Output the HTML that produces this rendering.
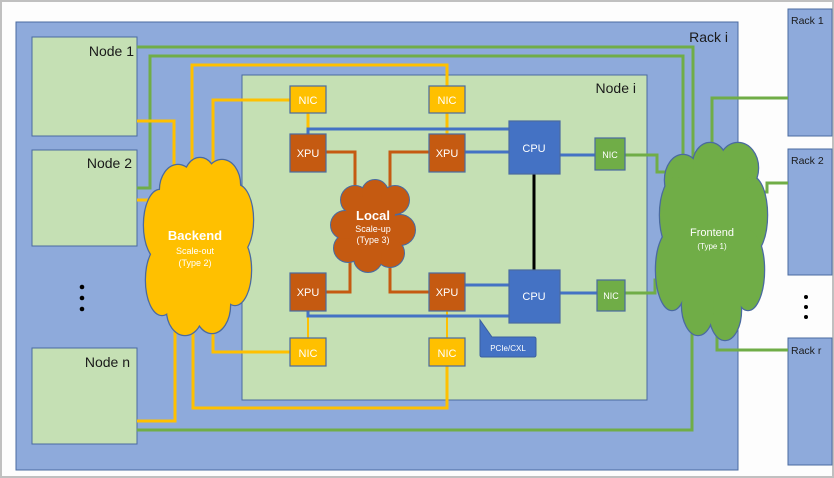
<!DOCTYPE html>
<html><head><meta charset="utf-8"><style>
body{margin:0;background:#fff}
svg{display:block;font-family:"Liberation Sans",sans-serif}
</style></head><body>
<svg width="834" height="478" viewBox="0 0 834 478" xmlns="http://www.w3.org/2000/svg">
<rect x="0" y="0" width="834" height="478" fill="#fdfdfd"/>
<rect x="1" y="1" width="832" height="476" fill="none" stroke="#c0c0c0" stroke-width="2"/>
<rect x="16" y="22" width="722" height="448" fill="#8eaadb" stroke="#4a6aa0" stroke-width="1"/>
<text x="728" y="42" font-size="14" text-anchor="end" fill="#1a1a1a">Rack i</text>
<g fill="#8eaadb" stroke="#4a6aa0">
<rect x="788" y="9" width="44" height="127"/>
<rect x="788" y="149" width="44" height="126"/>
<rect x="788" y="338" width="44" height="127"/>
</g>
<g font-size="10.5" fill="#1a1a1a">
<text x="791" y="24">Rack 1</text>
<text x="791" y="164">Rack 2</text>
<text x="791" y="354">Rack r</text>
</g>
<g fill="#000"><circle cx="806" cy="297" r="2"/><circle cx="806" cy="307" r="2"/><circle cx="806" cy="317" r="2"/>
<circle cx="82" cy="287" r="2.3"/><circle cx="82" cy="298" r="2.3"/><circle cx="82" cy="309" r="2.3"/></g>
<g fill="#c5e0b4" stroke="#4a6aa0">
<rect x="32" y="37" width="105" height="99"/>
<rect x="32" y="150" width="105" height="96"/>
<rect x="32" y="348" width="105" height="96"/>
<rect x="242" y="75" width="405" height="325"/>
</g>
<g font-size="14" fill="#1a1a1a" text-anchor="end">
<text x="134" y="56">Node 1</text>
<text x="132" y="168">Node 2</text>
<text x="130" y="367">Node n</text>
<text x="636" y="93">Node i</text>
</g>
<g fill="none" stroke="#70ad47" stroke-width="3">
<polyline points="137,47 693,47 693,170"/>
<polyline points="137,188 150,188 150,56 683,56 683,165"/>
<polyline points="137,430 692,430 692,320"/>
<polyline points="625,155 657,155 657,172 675,172"/>
<polyline points="625,293 655,293 655,280 668,280"/>
<polyline points="712,155 712,98 788,98"/>
<polyline points="760,192 767,192 767,183 788,183"/>
<polyline points="717,330 717,350 788,350"/>
</g>
<g fill="none" stroke="#ffc000" stroke-width="3">
<polyline points="192,170 192,65 447,65 447,86"/>
<polyline points="213,165 213,100 290,100"/>
<polyline points="137,121 174,121 174,185"/>
<polyline points="137,200 160,200"/>
<polyline points="137,421 175,421 175,320"/>
<polyline points="193,320 193,408 447,408 447,366"/>
<polyline points="213,320 213,352 290,352"/>
<line x1="308" y1="113" x2="308" y2="134"/>
<line x1="447" y1="113" x2="447" y2="134"/>
<line x1="308" y1="311" x2="308" y2="338" stroke-width="2"/>
<line x1="447" y1="311" x2="447" y2="338" stroke-width="2"/>
</g>
<g fill="none" stroke="#4472c4" stroke-width="3">
<polyline points="308,134 308,129 509,129"/>
<line x1="465" y1="152" x2="509" y2="152"/>
<line x1="560" y1="155" x2="595" y2="155"/>
<line x1="465" y1="285" x2="509" y2="285"/>
<polyline points="308,311 308,316 509,316"/>
<line x1="560" y1="293" x2="597" y2="293"/>
</g>
<line x1="534" y1="174" x2="534" y2="270" stroke="#000" stroke-width="3"/>
<g fill="none" stroke="#c55a11" stroke-width="3">
<polyline points="326,152 355,152 355,200"/>
<polyline points="429,152 390,152 390,195"/>
<polyline points="326,292 350,292 350,255"/>
<polyline points="429,292 390,292 390,258"/>
</g>
<g>
<g fill="#ffc000" stroke="#4a6aa0" stroke-width="2.5">
<ellipse cx="178" cy="190" rx="18" ry="25"/><ellipse cx="200" cy="180" rx="16" ry="22"/><ellipse cx="222" cy="185" rx="18" ry="25"/>
<ellipse cx="237" cy="220" rx="16" ry="35"/><ellipse cx="235" cy="270" rx="16" ry="35"/><ellipse cx="212" cy="305" rx="18" ry="28"/>
<ellipse cx="185" cy="310" rx="18" ry="25"/><ellipse cx="162" cy="280" rx="16" ry="35"/><ellipse cx="160" cy="225" rx="16" ry="35"/>
</g>
<g fill="#ffc000">
<ellipse cx="178" cy="190" rx="18" ry="25"/><ellipse cx="200" cy="180" rx="16" ry="22"/><ellipse cx="222" cy="185" rx="18" ry="25"/>
<ellipse cx="237" cy="220" rx="16" ry="35"/><ellipse cx="235" cy="270" rx="16" ry="35"/><ellipse cx="212" cy="305" rx="18" ry="28"/>
<ellipse cx="185" cy="310" rx="18" ry="25"/><ellipse cx="162" cy="280" rx="16" ry="35"/><ellipse cx="160" cy="225" rx="16" ry="35"/>
<rect x="165" y="195" width="65" height="110"/>
</g>
</g>
<g>
<g fill="#c55a11" stroke="#4a6aa0" stroke-width="2">
<circle cx="355" cy="200" r="14"/><circle cx="375" cy="193" r="13"/><circle cx="395" cy="200" r="14"/>
<circle cx="400" cy="230" r="15"/><circle cx="390" cy="253" r="14"/><circle cx="368" cy="258" r="14"/>
<circle cx="348" cy="248" r="14"/><circle cx="345" cy="225" r="14"/>
</g>
<g fill="#c55a11">
<circle cx="355" cy="200" r="14"/><circle cx="375" cy="193" r="13"/><circle cx="395" cy="200" r="14"/>
<circle cx="400" cy="230" r="15"/><circle cx="390" cy="253" r="14"/><circle cx="368" cy="258" r="14"/>
<circle cx="348" cy="248" r="14"/><circle cx="345" cy="225" r="14"/><rect x="350" y="200" width="45" height="50"/>
</g>
</g>
<g>
<g fill="#70ad47" stroke="#4a6aa0" stroke-width="2.5">
<ellipse cx="683" cy="180" rx="18" ry="25"/><ellipse cx="710" cy="165" rx="17" ry="22"/><ellipse cx="738" cy="168" rx="20" ry="25"/>
<ellipse cx="752" cy="215" rx="15" ry="38"/><ellipse cx="748" cy="270" rx="16" ry="40"/><ellipse cx="725" cy="310" rx="16" ry="30"/>
<ellipse cx="698" cy="305" rx="16" ry="30"/><ellipse cx="672" cy="270" rx="16" ry="40"/><ellipse cx="676" cy="215" rx="16" ry="38"/>
</g>
<g fill="#70ad47">
<ellipse cx="683" cy="180" rx="18" ry="25"/><ellipse cx="710" cy="165" rx="17" ry="22"/><ellipse cx="738" cy="168" rx="20" ry="25"/>
<ellipse cx="752" cy="215" rx="15" ry="38"/><ellipse cx="748" cy="270" rx="16" ry="40"/><ellipse cx="725" cy="310" rx="16" ry="30"/>
<ellipse cx="698" cy="305" rx="16" ry="30"/><ellipse cx="672" cy="270" rx="16" ry="40"/><ellipse cx="676" cy="215" rx="16" ry="38"/>
<rect x="678" y="180" width="70" height="120"/>
</g>
</g>
<g fill="#fff" text-anchor="middle">
<text x="195" y="240" font-size="13" font-weight="bold">Backend</text>
<text x="195" y="254" font-size="9">Scale-out</text>
<text x="195" y="266" font-size="9">(Type 2)</text>
<text x="373" y="220" font-size="13" font-weight="bold">Local</text>
<text x="373" y="232" font-size="9">Scale-up</text>
<text x="373" y="243" font-size="9">(Type 3)</text>
<text x="712" y="236" font-size="11">Frontend</text>
<text x="712" y="249" font-size="8">(Type 1)</text>
</g>
<g stroke="#4a6aa0" stroke-width="1.2">
<rect x="290" y="86" width="36" height="27" fill="#ffc000"/>
<rect x="429" y="86" width="36" height="27" fill="#ffc000"/>
<rect x="290" y="338" width="36" height="28" fill="#ffc000"/>
<rect x="429" y="338" width="36" height="28" fill="#ffc000"/>
<rect x="290" y="134" width="36" height="38" fill="#c55a11"/>
<rect x="429" y="134" width="36" height="38" fill="#c55a11"/>
<rect x="290" y="273" width="36" height="38" fill="#c55a11"/>
<rect x="429" y="273" width="36" height="38" fill="#c55a11"/>
<rect x="509" y="121" width="51" height="53" fill="#4472c4"/>
<rect x="509" y="270" width="51" height="53" fill="#4472c4"/>
<rect x="595" y="138" width="30" height="32" fill="#70ad47"/>
<rect x="597" y="280" width="28" height="31" fill="#70ad47"/>
</g>
<path d="M480,337 L480,320 L492,337 L534,337 Q536,337 536,339 L536,355 Q536,357 534,357 L482,357 Q480,357 480,355 Z" fill="#4472c4" stroke="#3a5fa0"/>
<g fill="#fff" text-anchor="middle" font-size="11">
<text x="308" y="104">NIC</text><text x="447" y="104">NIC</text>
<text x="308" y="357">NIC</text><text x="447" y="357">NIC</text>
<text x="308" y="157">XPU</text><text x="447" y="157">XPU</text>
<text x="308" y="296">XPU</text><text x="447" y="296">XPU</text>
<text x="534" y="152">CPU</text><text x="534" y="300">CPU</text>
<text x="610" y="158" font-size="9">NIC</text><text x="611" y="299" font-size="9">NIC</text>
<text x="508" y="351" font-size="8">PCIe/CXL</text>
</g>
</svg>
</body></html>
